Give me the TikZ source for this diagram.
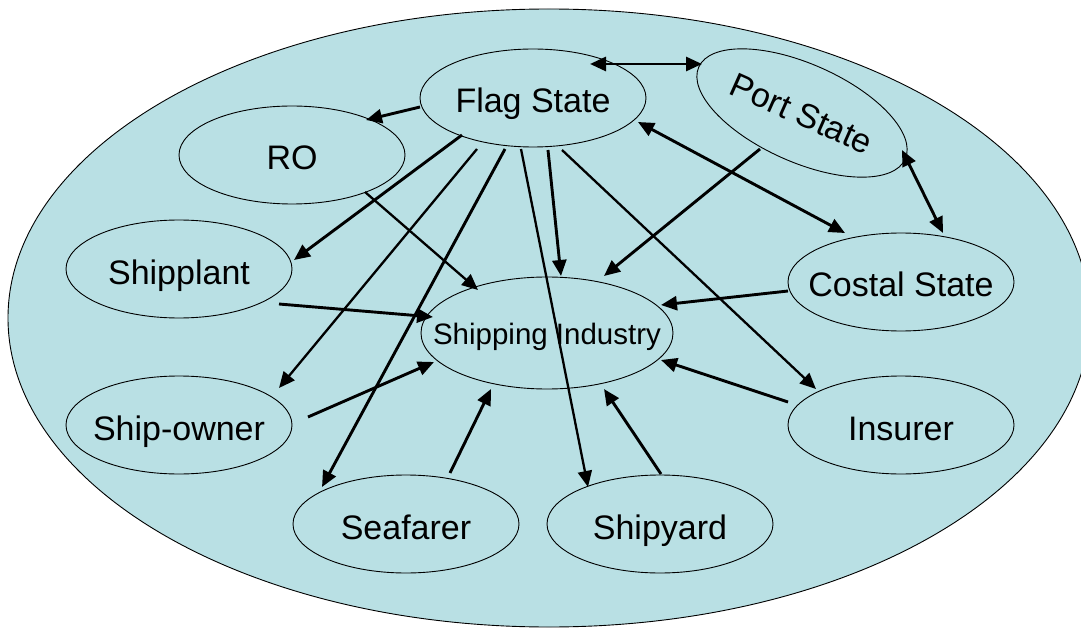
\documentclass[tikz,border=0pt]{standalone}
\usepackage{fontspec}
\setmainfont{Liberation Sans}
\usetikzlibrary{shapes.geometric,arrows.meta,calc}
\definecolor{bg}{RGB}{185,224,228}
\begin{document}
\begin{tikzpicture}[x=1pt,y=-1pt,
  ell/.style={ellipse,draw,line width=0.9pt,fill=bg,minimum width=226pt,minimum height=98pt,inner sep=0pt,outer sep=0pt},
  txt/.style={yshift=-6.5pt,font=\fontsize{34}{40}\selectfont,inner sep=0pt,text height=25pt,text depth=8pt},
  txtP/.style={yshift=-4pt,font=\fontsize{34}{40}\selectfont,inner sep=0pt,text height=25pt,text depth=8pt},
  txtS/.style={yshift=-4pt,font=\fontsize{29.5}{35}\selectfont,inner sep=0pt,text height=22pt,text depth=7pt},
  Tri/.tip={Triangle[length=16pt,width=14pt]},
  arrA/.style={line width=2.9pt,-Tri},
  arrB/.style={line width=2.3pt,-Tri},
  darr/.style={line width=2.9pt,Tri-Tri}]
\useasboundingbox (0,0) rectangle (1081,628);
\node[ellipse,draw,line width=0.9pt,fill=bg,minimum width=1082pt,minimum height=618pt,inner sep=0pt,outer sep=0pt] (frame) at (549,318) {};
\node[ell,label={[txt]center:Flag State}] (flag) at (533,98) {};
\node[ell,rotate=-24,label={[rotate=-24,txtP]center:Port State}] (port) at (802,113) {};
\node[ell,label={[txt]center:RO}] (ro) at (292,155) {};
\node[ell,label={[txt]center:Shipplant}] (plant) at (179,269) {};
\node[ell,label={[txt]center:Ship-owner}] (owner) at (179,425) {};
\node[ell,label={[txt]center:Seafarer}] (sea) at (406,524) {};
\node[ell,label={[txt]center:Shipyard}] (yard) at (660,524) {};
\node[ell,label={[txt]center:Insurer}] (ins) at (901,425) {};
\node[ell,label={[txt]center:Costal State}] (cos) at (901,282) {};
\node[ell,minimum width=252pt,minimum height=112pt,label={[txtS]center:Shipping Industry}] (ind) at (547,333) {};
\draw[darr] ($(flag)+(57,-34)$) -- ($(port)+(-100,-49)$);
\draw[arrA] ($(flag)+(-113,9)$) -- ($(ro)+(74,-35)$);
\draw[arrA] ($(flag)+(-71,37)$) -- ($(plant)+(115,-9)$);
\draw[arrB] ($(flag)+(-56,51)$) -- ($(owner)+(100,-37)$);
\draw[arrA] ($(flag)+(-28,51)$) -- ($(sea)+(-84,-37)$);
\draw[arrB] ($(flag)+(-12,51)$) -- ($(yard)+(-72,-37)$);
\draw[arrA] ($(flag)+(15,52)$) -- ($(ind)+(14,-57)$);
\draw[arrB] ($(flag)+(29,52)$) -- ($(ins)+(-85,-36)$);
\draw[darr] ($(flag)+(105,24)$) -- ($(cos)+(-56,-49)$);
\draw[arrA] ($(port)+(-42,36)$) -- ($(ind)+(57,-57)$);
\draw[darr] ($(port)+(100,37)$) -- ($(cos)+(42,-49)$);
\draw[arrA] ($(cos)+(-113,9)$) -- ($(ind)+(114,-28)$);
\draw[arrB] ($(ro)+(73,37)$) -- ($(ind)+(-69,-43)$);
\draw[arrA] ($(plant)+(100,35)$) -- ($(ind)+(-114,-16)$);
\draw[arrA] ($(owner)+(129,-8)$) -- ($(ind)+(-113,29)$);
\draw[arrA] ($(sea)+(44,-51)$) -- ($(ind)+(-56,56)$);
\draw[arrA] ($(yard)+(1,-50)$) -- ($(ind)+(57,56)$);
\draw[arrA] ($(ins)+(-113,-23)$) -- ($(ind)+(114,27)$);
\end{tikzpicture}
\end{document}
